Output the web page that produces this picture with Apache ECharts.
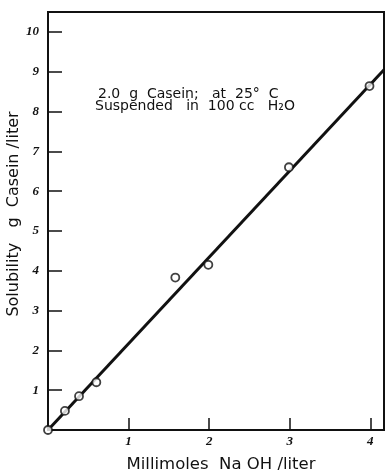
<!DOCTYPE html>
<html>
<head>
<meta charset="utf-8">
<script src="https://cdn.jsdelivr.net/npm/echarts@6/dist/echarts.min.js"></script>
<style>html,body{margin:0;padding:0;background:#fff;}#c{width:386px;height:473px;}</style>
</head>
<body>
<div id="c"></div>
<script>
// Measured points: NaOH (millimoles/liter) vs solubility (g casein/liter)
const naohMmol = [0, 0.21, 0.385, 0.6, 1.58, 1.99, 2.99, 3.99];
const solubility = [0, 0.48, 0.85, 1.2, 3.83, 4.15, 6.6, 8.64];
// Straight fitted line endpoints
const lineX = [0, 4.17];
const lineY = [0, 9.05];
// Tick labels
const xTicks = [1, 2, 3, 4];
const yTicks = [1, 2, 3, 4, 5, 6, 7, 8, 9, 10];

const chart = echarts.init(document.getElementById('c'), null, {renderer: 'canvas'});
const tickFont = {fontFamily: 'Liberation Serif', fontStyle: 'italic', fontWeight: 'bold', fontSize: 13, color: '#111'};
chart.setOption({
  animation: false,
  backgroundColor: '#fff',
  grid: {left: 48, right: 2, top: 12, bottom: 43, outerBoundsMode: 'none', containLabel: false,
         show: true, borderColor: '#111', borderWidth: 2, backgroundColor: 'transparent'},
  xAxis: {
    type: 'value', min: 0, max: 4.17,
    axisLine: {show: true, lineStyle: {color: '#111', width: 2}},
    axisTick: {show: true, inside: true, length: 12, lineStyle: {color: '#111', width: 1.5}, customValues: xTicks},
    axisLabel: Object.assign({margin: 5, customValues: xTicks, formatter: v => String(v)}, tickFont),
    splitLine: {show: false},
    name: 'Millimoles  Na OH /liter', nameLocation: 'middle', nameGap: 26,
    nameTextStyle: {fontFamily: 'DejaVu Sans', fontSize: 16.5, color: '#111', padding: [0, 0, 0, 10]}
  },
  yAxis: {
    type: 'value', min: 0, max: 10.5,
    axisLine: {show: true, lineStyle: {color: '#111', width: 2}},
    axisTick: {show: true, inside: true, length: 14, lineStyle: {color: '#111', width: 1.5}, customValues: yTicks},
    axisLabel: Object.assign({margin: 9, customValues: yTicks, formatter: v => String(v)}, tickFont),
    splitLine: {show: false},
    name: 'Solubility   g  Casein /liter', nameLocation: 'middle', nameGap: 26, nameMoveOverlap: false,
    nameTextStyle: {fontFamily: 'DejaVu Sans', fontSize: 16, color: '#111', padding: [0, 0, 0, 14]}
  },
  graphic: [
    {type: 'text', left: 98, top: 87, style: {text: '2.0  g  Casein;   at  25°  C', font: '14px "DejaVu Sans"', fill: '#111'}},
    {type: 'text', left: 95, top: 99, style: {text: 'Suspended   in  100 cc   H₂O', font: '14px "DejaVu Sans"', fill: '#111'}}
  ],
  series: [
    {type: 'line', data: lineX.map((x, i) => [x, lineY[i]]), symbol: 'none',
     lineStyle: {color: '#111', width: 3}, z: 2, silent: true},
    {type: 'scatter', data: naohMmol.map((x, i) => [x, solubility[i]]), symbol: 'circle', symbolSize: 8,
     itemStyle: {color: '#fff', borderColor: '#111', borderWidth: 1.8}, z: 3}
  ]
});
</script>
</body>
</html>
